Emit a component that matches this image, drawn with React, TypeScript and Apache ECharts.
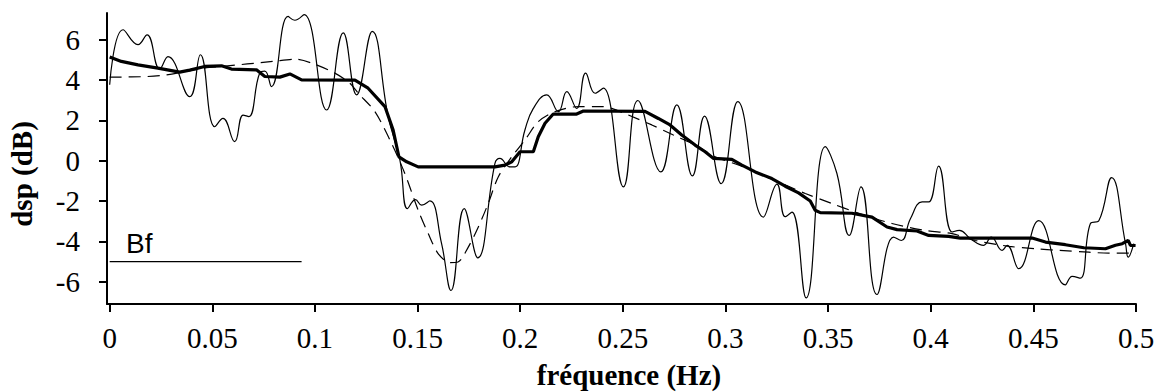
import React, { useEffect, useRef } from "react";
import * as echarts from "echarts";

// x tick labels and y tick labels
const xTicks = [0, 0.05, 0.1, 0.15, 0.2, 0.25, 0.3, 0.35, 0.4, 0.45, 0.5];
const yTicks = [-6, -4, -2, 0, 2, 4, 6];

// thin line (raw spectrum)
const thinFreq = [0, 0.0065, 0.0138, 0.0182, 0.0244, 0.0284, 0.039, 0.0442, 0.0512, 0.0552, 0.0609, 0.065, 0.0678, 0.0731, 0.0756, 0.0788, 0.0869, 0.0902, 0.0947, 0.1057, 0.1138, 0.1203, 0.1279, 0.1357, 0.1414, 0.1451, 0.149, 0.152, 0.156, 0.1617, 0.1663, 0.1727, 0.1793, 0.1877, 0.1901, 0.195, 0.1975, 0.2023, 0.2064, 0.2129, 0.2186, 0.2227, 0.2275, 0.2319, 0.2365, 0.2405, 0.2503, 0.2573, 0.2685, 0.2763, 0.2839, 0.2898, 0.2979, 0.306, 0.3185, 0.3251, 0.3291, 0.3324, 0.3393, 0.3486, 0.3543, 0.3603, 0.366, 0.3738, 0.3819, 0.3857, 0.3901, 0.3958, 0.399, 0.4038, 0.4104, 0.414, 0.4193, 0.4258, 0.4295, 0.4348, 0.4372, 0.4429, 0.4526, 0.4656, 0.4689, 0.4729, 0.4778, 0.4819, 0.4881, 0.4949, 0.4962, 0.4989];
const thinDsp = [3.77, 6.5, 5.76, 6.25, 4.55, 5.17, 3.18, 5.26, 1.69, 2.1, 0.95, 2.27, 2.19, 4.36, 4.45, 3.68, 7.16, 6.97, 7.25, 2.52, 6.34, 3.27, 6.42, 2.19, 0.03, -2.37, -1.92, -2.2, -1.99, -4.11, -6.43, -2.37, -4.81, -0.13, 0.12, -0.3, -0.3, 1.53, 2.6, 3.27, 2.44, 3.43, 2.6, 4.35, 3.35, 3.6, -1.29, 2.99, -0.55, 2.77, -0.75, 2.22, -1.13, 2.94, -2.79, -1.16, -2.77, -2.54, -6.8, 0.7, -0.63, -3.7, -1.29, -6.63, -3.78, -3.95, -2.87, -2.04, -2.04, -0.26, -3.53, -3.45, -3.86, -4.19, -3.78, -4.44, -4.19, -5.35, -2.97, -6.15, -5.73, -5.82, -3.11, -2.97, -0.83, -4.11, -4.78, -4.11];

// thick line (smoothed estimate)
const thickFreq = [0, 0.0057, 0.0138, 0.0235, 0.0341, 0.039, 0.0463, 0.0545, 0.0593, 0.0715, 0.0756, 0.0829, 0.0878, 0.0935, 0.1195, 0.1259, 0.1341, 0.1381, 0.1409, 0.1447, 0.1503, 0.1877, 0.1926, 0.1959, 0.1999, 0.2064, 0.2088, 0.2121, 0.2161, 0.2275, 0.2308, 0.2608, 0.2673, 0.273, 0.2787, 0.2852, 0.2901, 0.2942, 0.3031, 0.308, 0.3145, 0.3226, 0.3291, 0.3356, 0.3413, 0.3437, 0.3462, 0.3616, 0.3714, 0.3787, 0.3836, 0.3933, 0.399, 0.4087, 0.4144, 0.4494, 0.4559, 0.4656, 0.4746, 0.4851, 0.49, 0.4933, 0.4962, 0.4973, 0.4998];
const thickDsp = [5.15, 4.93, 4.76, 4.6, 4.4, 4.5, 4.68, 4.71, 4.55, 4.51, 4.18, 4.15, 4.31, 4.01, 4.0, 3.6, 2.69, 1.53, 0.2, -0.05, -0.3, -0.3, -0.21, -0.05, 0.45, 0.45, 1.19, 1.86, 2.32, 2.32, 2.47, 2.45, 2.1, 1.78, 1.28, 0.78, 0.45, 0.12, 0.07, -0.21, -0.55, -0.88, -1.26, -1.59, -1.99, -2.45, -2.57, -2.6, -2.79, -3.28, -3.41, -3.48, -3.7, -3.75, -3.83, -3.83, -4.03, -4.16, -4.31, -4.36, -4.19, -4.11, -3.95, -4.19, -4.2];

// dashed line (theoretical)
const dashFreq = [0, 0.0185, 0.0276, 0.0463, 0.0546, 0.0795, 0.0902, 0.0983, 0.1097, 0.117, 0.1211, 0.1292, 0.1373, 0.1438, 0.1503, 0.1552, 0.1601, 0.1658, 0.1697, 0.1747, 0.1796, 0.1844, 0.1893, 0.1959, 0.2023, 0.2088, 0.217, 0.2283, 0.2397, 0.2446, 0.2527, 0.2641, 0.2746, 0.2852, 0.295, 0.3063, 0.3161, 0.3307, 0.3389, 0.3519, 0.3632, 0.3811, 0.3974, 0.4104, 0.4217, 0.438, 0.451, 0.4624, 0.477, 0.4867, 0.5];
const dashDsp = [4.15, 4.18, 4.26, 4.6, 4.68, 4.93, 5.04, 4.85, 4.35, 3.85, 3.35, 2.44, 0.87, -0.63, -2.45, -3.61, -4.61, -5.05, -5.02, -4.28, -3.28, -2.12, -0.8, 0.2, 1.03, 1.94, 2.44, 2.69, 2.69, 2.6, 2.27, 1.78, 1.28, 0.78, 0.2, -0.21, -0.63, -1.26, -1.62, -2.12, -2.54, -3.11, -3.45, -3.61, -3.95, -4.24, -4.36, -4.44, -4.53, -4.58, -4.58];

// bandwidth marker
const bfFreq = [0, 0.0935];
const bfDsp = [-5, -5];
const bfLabelPos = [0.0144, -4.12];

const zip = (xs: number[], ys: number[]) => xs.map((x, i) => [x, ys[i]]);

export default function App() {
  const ref = useRef<HTMLDivElement>(null);
  useEffect(() => {
    if (!ref.current) return;
    const chart = echarts.init(ref.current, null, { renderer: "svg" });
    const serif = "'Liberation Serif', 'Times New Roman', serif";
    chart.setOption({
      animation: false,
      grid: { left: 107, right: 28, top: 13, bottom: 88, containLabel: false },
      xAxis: {
        type: "value",
        min: -0.0013,
        max: 0.5,
        axisLine: { show: true, onZero: false, lineStyle: { color: "#000", width: 2 } },
        axisTick: { show: true, customValues: xTicks, length: 8, lineStyle: { color: "#000", width: 2 } },
        axisLabel: {
          customValues: xTicks,
          formatter: (v: number) => String(v),
          fontFamily: serif,
          fontSize: 29,
          color: "#000",
          margin: 19,
        },
        splitLine: { show: false },
      },
      yAxis: {
        type: "value",
        min: -7.1,
        max: 7.33,
        axisLine: { show: true, onZero: false, lineStyle: { color: "#000", width: 2 } },
        axisTick: { show: true, customValues: yTicks, length: 8, lineStyle: { color: "#000", width: 2 } },
        axisLabel: {
          customValues: yTicks,
          formatter: (v: number) => String(v),
          fontFamily: serif,
          fontSize: 29,
          color: "#000",
          margin: 27,
        },
        splitLine: { show: false },
      },
      graphic: [
        {
          type: "text",
          x: 22,
          y: 174,
          rotation: Math.PI / 2,
          style: {
            text: "dsp (dB)",
            fontFamily: serif,
            fontWeight: "bold",
            fontSize: 29,
            fill: "#000",
            align: "center",
            verticalAlign: "middle",
          },
        },
        {
          type: "text",
          x: 629,
          y: 375,
          style: {
            text: "fréquence (Hz)",
            fontFamily: serif,
            fontWeight: "bold",
            fontSize: 29,
            fill: "#000",
            align: "center",
            verticalAlign: "middle",
          },
        },
      ],
      series: [
        {
          name: "thin",
          type: "line",
          data: zip(thinFreq, thinDsp),
          smooth: 0.45,
          showSymbol: false,
          symbol: "none",
          lineStyle: { color: "#000", width: 1.2 },
          z: 2,
        },
        {
          name: "dashed",
          type: "line",
          data: zip(dashFreq, dashDsp),
          smooth: 0.3,
          showSymbol: false,
          symbol: "none",
          lineStyle: { color: "#000", width: 1.2, type: [12, 7] },
          z: 3,
        },
        {
          name: "thick",
          type: "line",
          data: zip(thickFreq, thickDsp),
          showSymbol: false,
          symbol: "none",
          lineStyle: { color: "#000", width: 3.2 },
          z: 4,
        },
        {
          name: "Bf",
          type: "line",
          data: zip(bfFreq, bfDsp),
          showSymbol: false,
          symbol: "none",
          lineStyle: { color: "#000", width: 1.3 },
          z: 2,
        },
        {
          name: "BfLabel",
          type: "scatter",
          data: [bfLabelPos],
          symbolSize: 1,
          itemStyle: { color: "rgba(0,0,0,0)", opacity: 1 },
          label: {
            show: true,
            position: "inside",
            formatter: "Bf",
            fontFamily: "'Liberation Sans', Arial, sans-serif",
            fontSize: 28,
            color: "#000",
            opacity: 1,
            textBorderWidth: 0,
          },
          z: 5,
        },
      ],
    });
    return () => chart.dispose();
  }, []);
  return (
    <div
      ref={ref}
      style={{ position: "fixed", left: 0, top: 0, width: 1164, height: 392, background: "#fff" }}
    />
  );
}
